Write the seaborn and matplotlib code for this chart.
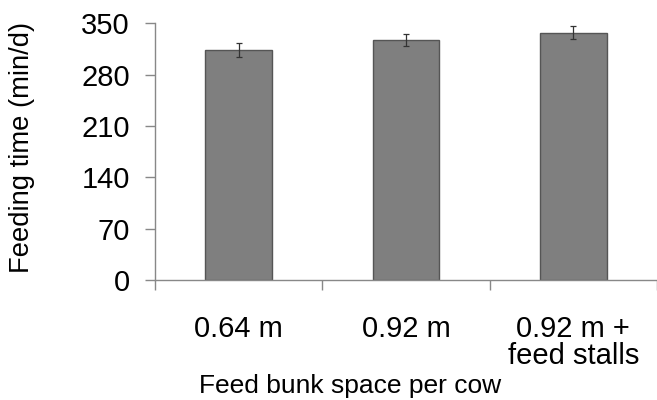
import matplotlib
matplotlib.use("Agg")
import matplotlib.pyplot as plt
import seaborn as sns
import pandas as pd
import numpy as np
from matplotlib.ticker import FixedLocator

categories = ["0.64 m", "0.92 m", "0.92 m +\nfeed stalls"]
feeding_time = [313, 327, 337]
errors = [9.5, 8.5, 9.0]
yticks = [0, 70, 140, 210, 280, 350]

sns.set_theme(style="white")
plt.rcParams["font.family"] = ["Liberation Sans", "DejaVu Sans"]

df = pd.DataFrame({"cat": categories, "val": feeding_time, "err": errors})

fig = plt.figure(figsize=(6.57, 4.0), dpi=100)
ax = fig.add_axes([155/657, 1 - 280/400, 502/657, (280 - 23.3)/400])

sns.barplot(data=df, x="cat", y="val", color="#7f7f7f", saturation=1,
            width=0.4, edgecolor="#555555", linewidth=1.0, errorbar=None, ax=ax)
ax.errorbar(x=np.arange(len(categories)), y=df["val"], yerr=df["err"],
            fmt="none", ecolor="#333333", elinewidth=0.9, capsize=2.5, capthick=0.9)

ax.set_ylim(0, 350)
ax.set_xlim(-0.5, 2.5)
ax.set_yticks(yticks)
ax.set_yticklabels([str(t) for t in yticks], fontsize=21)
ax.set_xticks(range(len(categories)))
ax.set_xticklabels(categories, fontsize=21, linespacing=0.95)
ax.xaxis.set_minor_locator(FixedLocator([-0.5, 0.5, 1.5, 2.5]))

ax.tick_params(axis="x", which="major", length=0, pad=25, colors="black")
ax.tick_params(axis="x", which="minor", length=7, width=1, color="#888888", direction="out", bottom=True)
ax.tick_params(axis="y", which="major", length=7, width=1, color="#888888", direction="out", left=True, pad=11, labelcolor="black")

for s in ["top", "right"]:
    ax.spines[s].set_visible(False)
for s in ["left", "bottom"]:
    ax.spines[s].set_color("#888888")
    ax.spines[s].set_linewidth(1)

ax.set_xlabel("Feed bunk space per cow", fontsize=19, color="black")
ax.set_ylabel("Feeding time (min/d)", fontsize=19.7, color="black")
ax.xaxis.set_label_coords(0.388, -0.365)
ax.yaxis.set_label_coords(-0.239, 0.518)
ax.grid(False)

fig.savefig("out.png", dpi=100)
